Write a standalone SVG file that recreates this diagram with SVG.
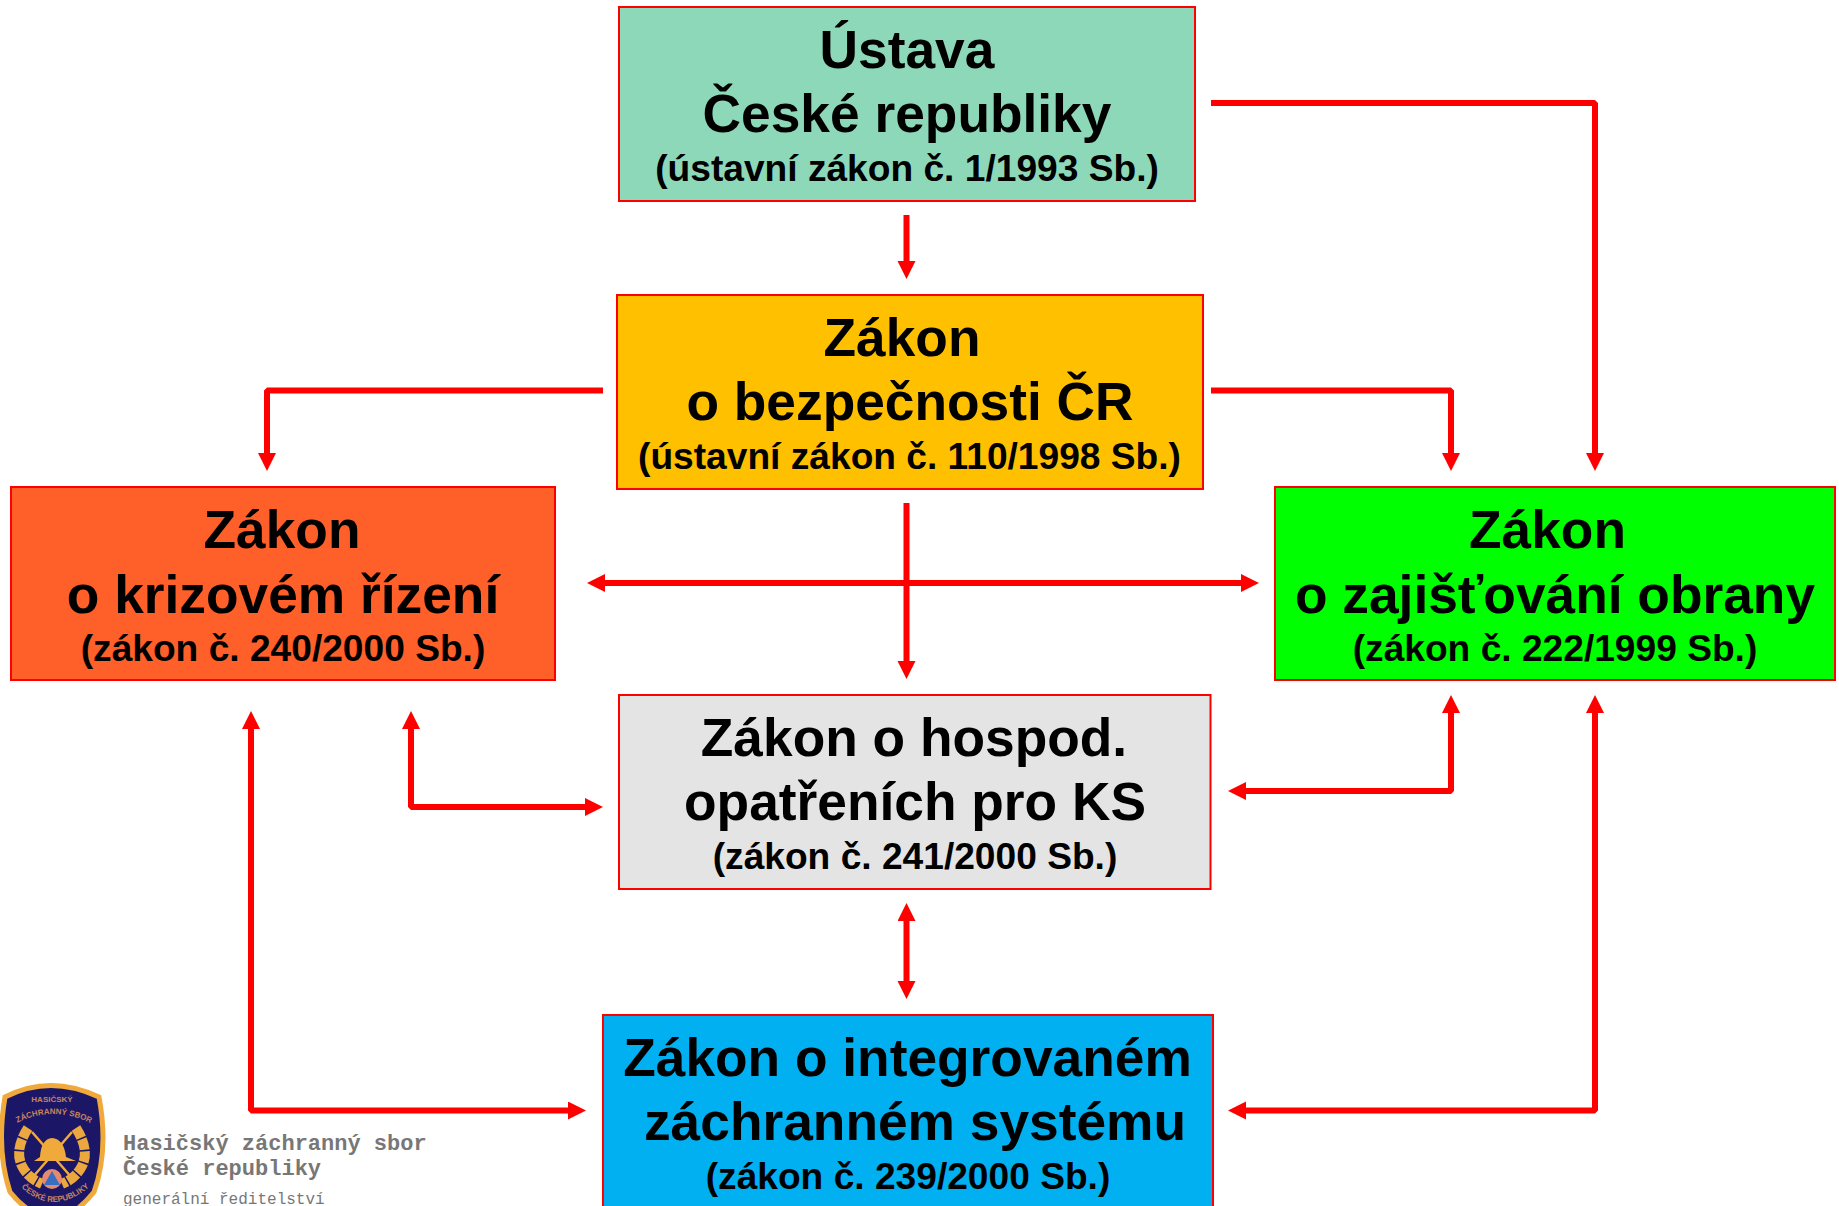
<svg xmlns="http://www.w3.org/2000/svg" width="1839" height="1206" viewBox="0 0 1839 1206">
<style>
.b{stroke:#f00;stroke-width:2}
.t{font:bold 53.300px "Liberation Sans",Arial,sans-serif;fill:#000;text-anchor:middle}
.s{font:bold 37.150px "Liberation Sans",Arial,sans-serif;fill:#000;text-anchor:middle}
.c{fill:none;stroke:#f00;stroke-width:6;stroke-linejoin:bevel;marker-end:url(#a)}
.d{marker-start:url(#a)}
.m{font-family:"Liberation Mono",monospace;fill:#777}
.l{font:bold 8px "Liberation Sans",sans-serif;fill:#c8845c}
</style>
<defs>
<marker id="a" markerUnits="userSpaceOnUse" markerWidth="20" markerHeight="20" refX="1" refY="9" orient="auto-start-reverse"><path d="M0 0L18 9L0 18Z" fill="#f00"/></marker>
<path id="arcT" d="M8 1128Q52 1100 100 1128"/>
<path id="arcB" d="M16 1182Q52 1222 95 1182"/>
</defs>
<rect width="1839" height="1206" fill="#fff"/>
<g id="n-ustava"><rect class="b" x="619" y="7" width="576" height="194" fill="#8dd8b9"/><text class="t" x="907" y="68">Ústava</text><text class="t" x="907" y="132">České republiky</text><text class="s" x="907" y="181">(ústavní zákon č. 1/1993 Sb.)</text></g>
<g id="n-bezpecnost"><rect class="b" x="617" y="295" width="586" height="194" fill="#ffc000"/><text class="t" x="902" y="356">Zákon</text><text class="t" x="910" y="420">o bezpečnosti ČR</text><text class="s" x="909.500" y="469">(ústavní zákon č. 110/1998 Sb.)</text></g>
<g id="n-krizove"><rect class="b" x="11" y="487" width="544" height="193" fill="#ff5f29"/><text class="t" x="282" y="548">Zákon</text><text class="t" x="283" y="612.500">o krizovém řízení</text><text class="s" x="283" y="661">(zákon č. 240/2000 Sb.)</text></g>
<g id="n-obrana"><rect class="b" x="1275" y="487" width="560" height="193" fill="#0f0"/><text class="t" x="1547.500" y="548">Zákon</text><text class="t" x="1555" y="612.500">o zajišťování obrany</text><text class="s" x="1555" y="661">(zákon č. 222/1999 Sb.)</text></g>
<g id="n-hospod"><rect class="b" x="619" y="695" width="591.500" height="194" fill="#e4e4e4"/><text class="t" x="914" y="756">Zákon o hospod.</text><text class="t" x="915" y="820">opatřeních pro KS</text><text class="s" x="915" y="869">(zákon č. 241/2000 Sb.)</text></g>
<g id="n-izs"><rect class="b" x="603" y="1015" width="610" height="200" fill="#00b0f0"/><text class="t" x="907.500" y="1076">Zákon o integrovaném</text><text class="t" x="915" y="1140">záchranném systému</text><text class="s" x="908" y="1189">(zákon č. 239/2000 Sb.)</text></g>
<g id="connectors">
<path class="c" d="M906.500 215V262"/>
<path class="c" d="M1211 103H1595V454"/>
<path class="c" d="M603 390.500H267V454"/>
<path class="c" d="M1211 390.500H1451V454"/>
<path class="c d" d="M604 583H1242"/>
<path class="c" d="M906.500 503V662"/>
<path class="c d" d="M411 728V807H586"/>
<path class="c d" d="M1451 712V791H1245"/>
<path class="c d" d="M906.500 920V982"/>
<path class="c d" d="M251 728V1110.500H569"/>
<path class="c d" d="M1595 712V1110.500H1245"/>
</g>
<g id="logo">
<path d="M5 1097Q50 1074 99 1097Q109 1150 94 1192Q76 1214 53 1224Q26 1212 10 1192Q-4 1150 5 1097Z" fill="#1c1666" stroke="#f0aa3c" stroke-width="5"/>
<text class="l" text-anchor="middle"><textPath href="#arcT" startOffset="50%">ZÁCHRANNÝ SBOR</textPath></text>
<text class="l" x="52" y="1102" text-anchor="middle">HASIČSKÝ</text>
<text class="l" text-anchor="middle"><textPath href="#arcB" startOffset="50%">ČESKÉ REPUBLIKY</textPath></text>
<path d="M40 1157Q41 1139 52 1138Q64 1139 66 1157L76 1161H34Z" fill="#f0aa3c"/>
<path d="M32 1132L72 1178M72 1132L32 1178" stroke="#f0aa3c" stroke-width="2.500"/>
<path d="M28 1128Q14 1150 22 1166Q28 1178 42 1184M76 1128Q90 1150 82 1166Q76 1178 62 1184" fill="none" stroke="#eaa83e" stroke-width="10" stroke-dasharray="11 1.500"/>
<circle cx="52" cy="1179" r="10" fill="#e58a70"/><path d="M52 1171L60 1185H44Z" fill="#3a6fc0"/>
</g>
<g id="caption">
<text class="m" x="123" y="1150" font-size="22" font-weight="700">Hasičský záchranný sbor</text>
<text class="m" x="123" y="1175" font-size="22" font-weight="700">České republiky</text>
<text class="m" x="123" y="1204" font-size="16">generální ředitelství</text>
</g>
</svg>
